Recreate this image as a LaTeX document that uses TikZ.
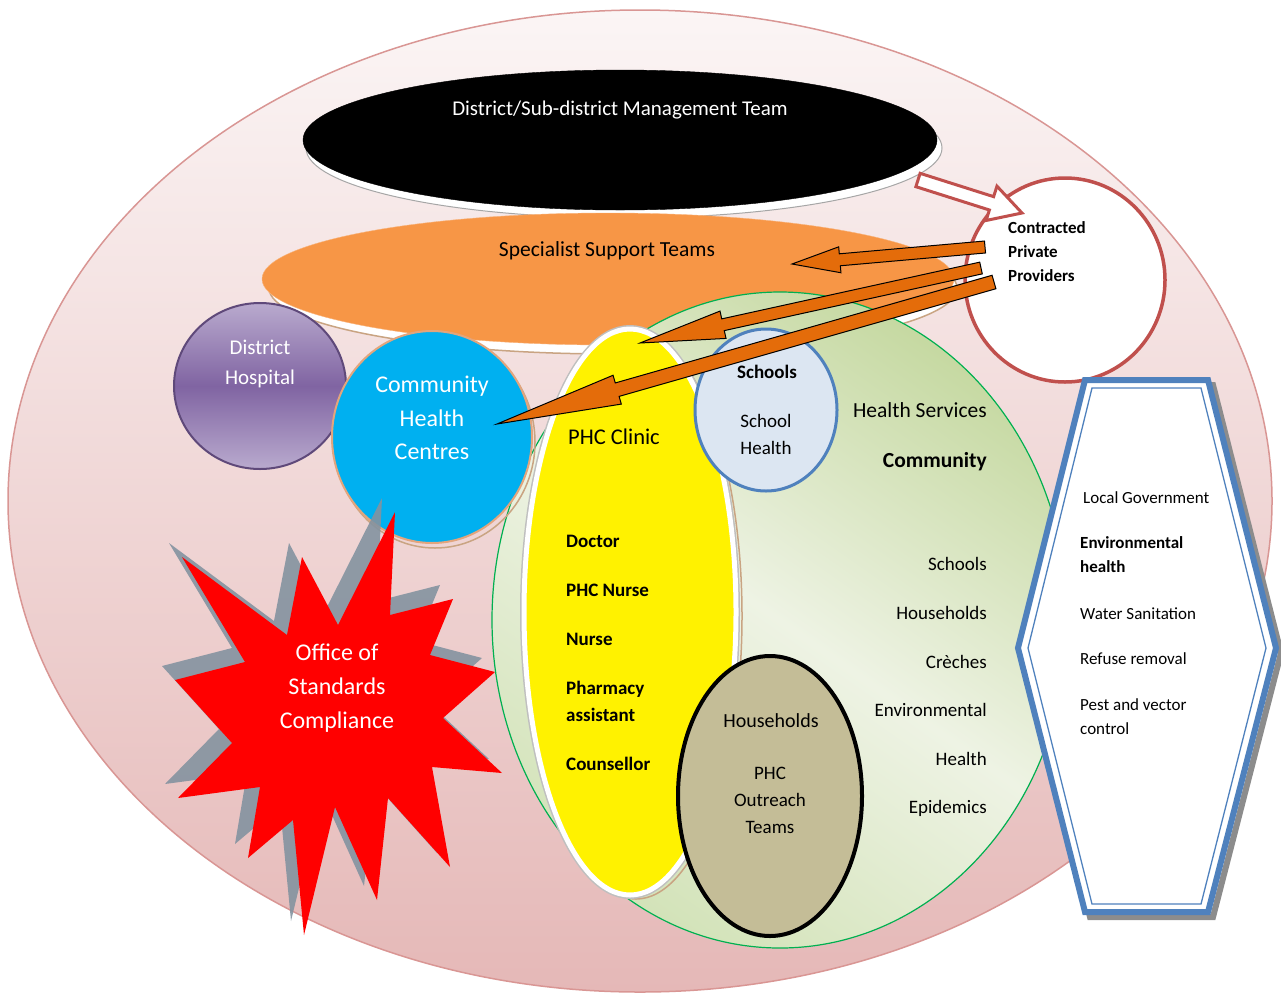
\documentclass[tikz,border=0pt]{standalone}
\usepackage{fontspec}
\setmainfont{Carlito}
\usetikzlibrary{calc}

\definecolor{pinktop}{HTML}{FBF5F5}
\definecolor{pinkbot}{HTML}{E5B8B7}
\definecolor{pinkline}{HTML}{D99694}
\definecolor{orangefill}{HTML}{F79646}
\definecolor{arroworange}{HTML}{E46C0A}
\definecolor{chcblue}{HTML}{00B0F0}
\definecolor{peach}{HTML}{E2A57D}
\definecolor{tanline}{HTML}{C9A482}
\definecolor{purpdark}{HTML}{8064A2}
\definecolor{purplight}{HTML}{B9AACE}
\definecolor{purpline}{HTML}{5F497A}
\definecolor{greendark}{HTML}{C6D9A2}
\definecolor{greenlight}{HTML}{EEF3E4}
\definecolor{greenbot}{HTML}{D3E3B9}
\definecolor{greenline}{HTML}{00B050}
\definecolor{schoolfill}{HTML}{DCE6F2}
\definecolor{blueline}{HTML}{4F81BD}
\definecolor{hhfill}{HTML}{C4BD97}
\definecolor{redline}{HTML}{C0504D}
\definecolor{starshadow}{HTML}{8493A0}

\newcommand{\fsz}[2]{\fontsize{#1}{#2}\selectfont}
% block arrow: [style](tail)(tip)(head length:shaft half width:head half width)
\def\blockarrow[#1](#2)(#3)(#4:#5:#6){%
	\coordinate (ab) at ($(#3)!#4!(#2)$);
	\draw[#1] ($(#2)!#5!90:(#3)$) -- ($(ab)!#5!90:(#3)$) -- ($(ab)!#6!90:(#3)$) -- (#3)
		-- ($(ab)!#6!-90:(#3)$) -- ($(ab)!#5!-90:(#3)$) -- ($(#2)!#5!-90:(#3)$) -- cycle;}

\tikzset{
	burst/.pic={
		\path[pic actions] (395,512) -- (390,615) -- (453,599) -- (430,655) -- (495,672) -- (443,718)
			-- (502,773) -- (432,767) -- (450,867) -- (388,798) -- (377,900) -- (335,807)
			-- (304,935) -- (293,820) -- (248,858) -- (260,787) -- (178,798) -- (232,743)
			-- (175,680) -- (245,662) -- (182,557) -- (287,635) -- (302,557) -- (338,625) -- cycle;
	},
	lbl/.style={inner sep=0pt, font=\fsz{19}{27}},
	lblb/.style={inner sep=0pt, font=\fsz{19}{27}\bfseries},
}

\begin{document}
\begin{tikzpicture}[x=1pt,y=-1pt]
	%%%%% START %%%%%
	\useasboundingbox (0,0) rectangle (1281,994);

	% outer district ellipse
	\draw[top color=pinktop, bottom color=pinkbot, draw=pinkline, line width=1.5] (640,501) ellipse [x radius=632, y radius=491];

	% management team
	\draw[fill=white, draw=black!35, line width=1] (624,148) ellipse [x radius=318, y radius=70];
	\draw[fill=black] (620,140) ellipse [x radius=317, y radius=70];

	% specialist support teams
	\draw[fill=white, draw=tanline, line width=1.5] (613,288) ellipse [x radius=344, y radius=66];
	\draw[fill=orangefill, draw=orangefill!70!white] (608,279) ellipse [x radius=346, y radius=66];

	% contracted private providers
	\draw[fill=white, draw=redline, line width=3.5] (1065,280) ellipse [x radius=100, y radius=102];
	\coordinate (mgmtout) at (918,180);
	\coordinate (cppin) at (1022,213);
	\blockarrow[draw=redline, line width=3, fill=white](mgmtout)(cppin)(32pt:7pt:18pt)

	% community health services
	\draw[top color=greendark, bottom color=greenbot, middle color=greenlight, shading angle=-35, draw=greenline, line width=1.2] (780,620) ellipse [x radius=288, y radius=328];

	% PHC clinic
	\draw[draw=tanline, line width=1.5] (636,616) ellipse [x radius=106, y radius=283];
	\draw[draw=black!25, line width=8] (630,612) ellipse [x radius=106, y radius=283];
	\draw[draw=white, line width=5, fill=yellow] (630,612) ellipse [x radius=106, y radius=283];

	% school health
	\draw[fill=schoolfill, draw=blueline, line width=3] (766,410) ellipse [x radius=71, y radius=81];

	% households
	\draw[fill=hhfill, draw=black, line width=4] (770,796) ellipse [x radius=92, y radius=140];

	% district hospital
	\draw[top color=purplight, bottom color=purplight, middle color=purpdark, draw=purpline, line width=2] (260,386) ellipse [x radius=86, y radius=83];

	% community health centres
	\draw[draw=tanline, line width=1.5] (435,442) ellipse [x radius=100, y radius=106];
	\draw[fill=chcblue, draw=peach, line width=2] (432,437) ellipse [x radius=100, y radius=106];

	% office of standards compliance
	\pic[fill=starshadow, opacity=0.9] at (-13,-14) {burst};
	\pic[fill=red] at (0,0) {burst};

	% local government
	\draw[draw=black!45, line width=6] (1090,385) -- (1213,385) -- (1281,653) -- (1213,917) -- (1090,917) -- (1023,653) -- cycle;
	\draw[fill=white, draw=blueline, line width=6] (1085,380) -- (1208,380) -- (1276,648) -- (1208,912) -- (1085,912) -- (1018,648) -- cycle;
	\draw[draw=blueline, line width=1.3] (1092,388) -- (1201,388) -- (1266,648) -- (1201,904) -- (1092,904) -- (1028,648) -- cycle;

	% contracted services arrows
	\coordinate (cppA) at (985,247);
	\coordinate (cppB) at (981,268);
	\coordinate (cppC) at (994,282);
	\coordinate (sstin) at (792,264);
	\coordinate (phcin) at (640,343);
	\coordinate (chcin) at (497,424);
	\blockarrow[fill=arroworange, draw=black, line width=1](cppA)(sstin)(48pt:6pt:13pt)
	\blockarrow[fill=arroworange, draw=black, line width=1](cppB)(phcin)(85pt:6pt:14pt)
	\blockarrow[fill=arroworange, draw=black, line width=1](cppC)(chcin)(125pt:7pt:15pt)

	% labels
	\node[inner sep=0pt, font=\fsz{21}{25}, white] (mgmt) at (620,110) {District/Sub-district Management Team};
	\node[inner sep=0pt, font=\fsz{21.5}{25}] (sst) at (607,251) {Specialist Support Teams};
	\node[inner sep=0pt, font=\fsz{21}{30}, white, align=center] (dh) at (260,364) {District\\Hospital};
	\node[inner sep=0pt, font=\fsz{24}{33.5}, white, align=center] (chc) at (432,418) {Community\\Health\\Centres};
	\node[inner sep=0pt, font=\fsz{24}{34}, white, align=center] (osc) at (337,688) {Office of\\Standards\\Compliance};
	\node[lblb, align=left, font=\fsz{17}{24}\bfseries, anchor=west] (cpp) at (1008,252) {Contracted\\Private\\Providers};

	\node[inner sep=0pt, font=\fsz{22.5}{27}] (phc) at (614,437) {PHC Clinic};
	\node[lblb, anchor=west] (doc) at (566,541) {Doctor};
	\node[lblb, anchor=west] (pnurse) at (566,590) {PHC Nurse};
	\node[lblb, anchor=west] (nurse) at (566,639) {Nurse};
	\node[lblb, anchor=west, align=left] (pharm) at (566,701) {Pharmacy\\assistant};
	\node[lblb, anchor=west] (couns) at (566,764) {Counsellor};

	\node[lblb] (sch) at (767,372) {Schools};
	\node[lbl, align=center] (schh) at (766,434) {School\\Health};

	\node[inner sep=0pt, font=\fsz{21.5}{25}, anchor=east] (hs) at (987,410) {Health Services};
	\node[inner sep=0pt, font=\fsz{21.5}{25}\bfseries, anchor=east] (comm) at (987,462) {Community};
	\node[lbl, anchor=east] (cs) at (987,564) {Schools};
	\node[lbl, anchor=east] (ch) at (987,613) {Households};
	\node[lbl, anchor=east] (cc) at (987,662) {Crèches};
	\node[lbl, anchor=east] (ce) at (987,710) {Environmental};
	\node[lbl, anchor=east] (chl) at (987,759) {Health};
	\node[lbl, anchor=east] (cep) at (987,808) {Epidemics};

	\node[inner sep=0pt, font=\fsz{20}{25}] (hh) at (771,721) {Households};
	\node[lbl, align=center] (pot) at (770,800) {PHC\\Outreach\\Teams};

	\node[inner sep=0pt, font=\fsz{17}{24}, anchor=west] (lg) at (1083,498) {Local Government};
	\node[inner sep=0pt, font=\fsz{17}{24}\bfseries, anchor=west, align=left] (eh) at (1080,555) {Environmental\\health};
	\node[inner sep=0pt, font=\fsz{17}{24}, anchor=west] (ws) at (1080,614) {Water Sanitation};
	\node[inner sep=0pt, font=\fsz{17}{24}, anchor=west] (rr) at (1080,659) {Refuse removal};
	\node[inner sep=0pt, font=\fsz{17}{24}, anchor=west, align=left] (pv) at (1080,717) {Pest and vector\\control};
	%%%%% END %%%%%
\end{tikzpicture}
\end{document}
